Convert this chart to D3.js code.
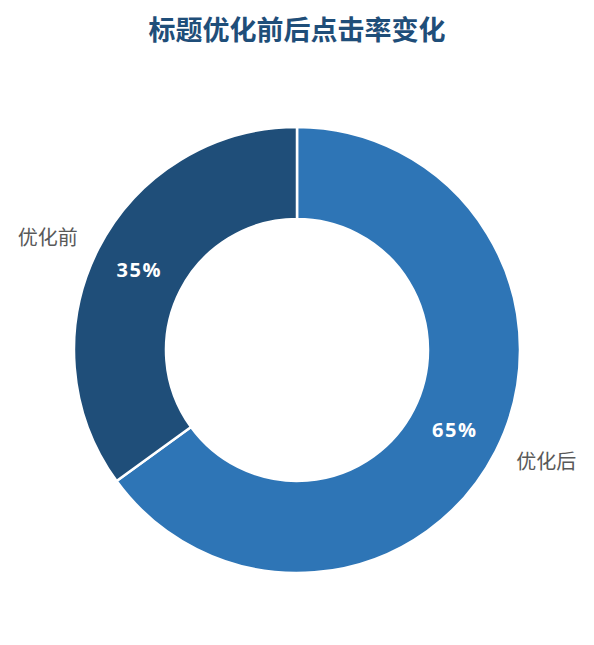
<!DOCTYPE html>
<html>
<head>
<meta charset="utf-8">
<script src="https://cdn.jsdelivr.net/npm/d3@7"></script>
<style>
  html, body { margin: 0; padding: 0; background: #fff; }
  #chart { width: 594px; height: 645px; }
</style>
</head>
<body>
<div id="chart"></div>
<script>
var categories = ['优化后', '优化前'];
var values = [65, 35];
var colors = ['#2e75b6', '#1f4e79'];
var title = '标题优化前后点击率变化';

var width = 594, height = 645;
var cx = 297, cy = 350;
var outerR = 223, innerR = 131, labelR = 246;

var svg = d3.select('#chart').append('svg')
  .attr('width', width)
  .attr('height', height);

svg.append('text')
  .attr('x', width / 2)
  .attr('y', 40)
  .attr('text-anchor', 'middle')
  .attr('font-family', '"Noto Sans CJK SC", sans-serif')
  .attr('font-weight', 'bold')
  .attr('font-size', 27)
  .attr('fill', '#1f4e79')
  .text(title);

var data = categories.map(function (c, i) { return { name: c, value: values[i], color: colors[i] }; });

var pie = d3.pie()
  .sort(null)
  .value(function (d) { return d.value; });

var arc = d3.arc().innerRadius(innerR).outerRadius(outerR);
var labelArc = d3.arc().innerRadius(labelR).outerRadius(labelR);

var g = svg.append('g')
  .attr('transform', 'translate(' + cx + ',' + cy + ')');

var arcs = pie(data);

g.selectAll('path')
  .data(arcs)
  .enter()
  .append('path')
  .attr('d', arc)
  .attr('fill', function (d) { return d.data.color; })
  .attr('stroke', '#fff')
  .attr('stroke-width', 2.5);

// percentage labels
g.selectAll('text.pct')
  .data(arcs)
  .enter()
  .append('text')
  .attr('class', 'pct')
  .attr('transform', function (d) { return 'translate(' + arc.centroid(d) + ')'; })
  .attr('text-anchor', 'middle')
  .attr('dy', '0.35em')
  .attr('font-family', '"Open Sans", sans-serif')
  .attr('font-weight', 'bold')
  .attr('font-size', 20)
  .attr('letter-spacing', 1.5)
  .attr('fill', '#fff')
  .text(function (d) { return d.data.value + '%'; });

// category labels outside
g.selectAll('text.cat')
  .data(arcs)
  .enter()
  .append('text')
  .attr('class', 'cat')
  .attr('transform', function (d) { return 'translate(' + labelArc.centroid(d) + ')'; })
  .attr('text-anchor', function (d) { return (d.startAngle + d.endAngle) / 2 < Math.PI ? 'start' : 'end'; })
  .attr('dy', '0.35em')
  .attr('font-family', '"Noto Sans CJK SC", sans-serif')
  .attr('font-size', 20)
  .attr('fill', '#595959')
  .text(function (d) { return d.data.name; });
</script>
</body>
</html>
